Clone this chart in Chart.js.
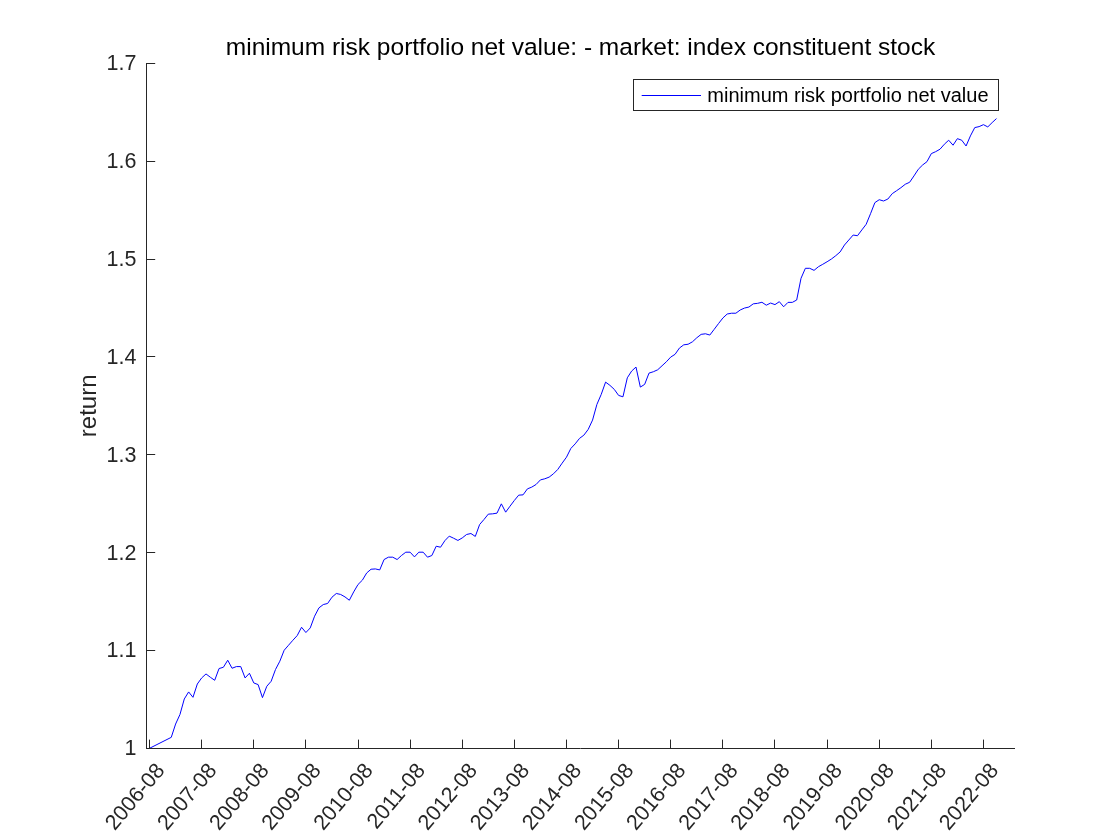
<!DOCTYPE html>
<html>
<head>
<meta charset="utf-8">
<script src="https://cdn.jsdelivr.net/npm/chart.js@4.4.0/dist/chart.umd.min.js"></script>
<style>
  html, body { margin: 0; padding: 0; background: #ffffff; }
  #wrap { width: 1120px; height: 840px; }
</style>
</head>
<body>
<div id="wrap"><canvas id="c" width="1120" height="840"></canvas></div>
<script>
// ---------------- data ----------------
const chartTitle = 'minimum risk portfolio net value: - market: index constituent stock';
const seriesName = 'minimum risk portfolio net value';
const yAxisLabel = 'return';

const dates = [
  '2006-08',
  '2007-01','2007-02','2007-03','2007-04','2007-05','2007-06','2007-07','2007-08','2007-09','2007-10','2007-11','2007-12',
  '2008-01','2008-02','2008-03','2008-04','2008-05','2008-06','2008-07','2008-08','2008-09','2008-10','2008-11','2008-12',
  '2009-01','2009-02','2009-03','2009-04','2009-05','2009-06','2009-07','2009-08','2009-09','2009-10','2009-11','2009-12',
  '2010-01','2010-02','2010-03','2010-04','2010-05','2010-06','2010-07','2010-08','2010-09','2010-10','2010-11','2010-12',
  '2011-01','2011-02','2011-03','2011-04','2011-05','2011-06','2011-07','2011-08','2011-09','2011-10','2011-11','2011-12',
  '2012-01','2012-02','2012-03','2012-04','2012-05','2012-06','2012-07','2012-08','2012-09','2012-10','2012-11','2012-12',
  '2013-01','2013-02','2013-03','2013-04','2013-05','2013-06','2013-07','2013-08','2013-09','2013-10','2013-11','2013-12',
  '2014-01','2014-02','2014-03','2014-04','2014-05','2014-06','2014-07','2014-08','2014-09','2014-10','2014-11','2014-12',
  '2015-01','2015-02','2015-03','2015-04','2015-05','2015-06','2015-07','2015-08','2015-09','2015-10','2015-11','2015-12',
  '2016-01','2016-02','2016-03','2016-04','2016-05','2016-06','2016-07','2016-08','2016-09','2016-10','2016-11','2016-12',
  '2017-01','2017-02','2017-03','2017-04','2017-05','2017-06','2017-07','2017-08','2017-09','2017-10','2017-11','2017-12',
  '2018-01','2018-02','2018-03','2018-04','2018-05','2018-06','2018-07','2018-08','2018-09','2018-10','2018-11','2018-12',
  '2019-01','2019-02','2019-03','2019-04','2019-05','2019-06','2019-07','2019-08','2019-09','2019-10','2019-11','2019-12',
  '2020-01','2020-02','2020-03','2020-04','2020-05','2020-06','2020-07','2020-08','2020-09','2020-10','2020-11','2020-12',
  '2021-01','2021-02','2021-03','2021-04','2021-05','2021-06','2021-07','2021-08','2021-09','2021-10','2021-11','2021-12',
  '2022-01','2022-02','2022-03','2022-04','2022-05','2022-06','2022-07','2022-08','2022-09','2022-10','2022-11'
];

const values = [
  1.0000,
  1.0112, 1.0248, 1.0345, 1.0504, 1.0576, 1.0521, 1.0657, 1.0719, 1.0760, 1.0726, 1.0695, 1.0815,
  1.0828, 1.0900, 1.0818, 1.0835, 1.0835, 1.0719, 1.0767, 1.0668, 1.0651, 1.0518, 1.0634, 1.0685,
  1.0805, 1.0890, 1.1002, 1.1053, 1.1104, 1.1152, 1.1237, 1.1183, 1.1230, 1.1350, 1.1435, 1.1469,
  1.1480, 1.1544, 1.1582, 1.1572, 1.1547, 1.1513, 1.1598, 1.1674, 1.1718, 1.1792, 1.1830, 1.1833,
  1.1823, 1.1929, 1.1953, 1.1953, 1.1929, 1.1970, 1.2004, 1.2004, 1.1956, 1.2004, 1.2004, 1.1953,
  1.1970, 1.2065, 1.2055, 1.2122, 1.2168, 1.2147, 1.2124, 1.2150, 1.2185, 1.2195, 1.2165, 1.2287,
  1.2338, 1.2393, 1.2396, 1.2403, 1.2498, 1.2413, 1.2474, 1.2533, 1.2587, 1.2590, 1.2651, 1.2669,
  1.2696, 1.2743, 1.2754, 1.2771, 1.2805, 1.2850, 1.2914, 1.2975, 1.3064, 1.3111, 1.3167, 1.3200,
  1.3259, 1.3354, 1.3514, 1.3617, 1.3742, 1.3709, 1.3668, 1.3606, 1.3592, 1.3786, 1.3855, 1.3896,
  1.3691, 1.3719, 1.3834, 1.3848, 1.3868, 1.3909, 1.3950, 1.3998, 1.4026, 1.4090, 1.4123, 1.4129,
  1.4154, 1.4195, 1.4230, 1.4236, 1.4223, 1.4281, 1.4340, 1.4397, 1.4438, 1.4446, 1.4446, 1.4479,
  1.4499, 1.4509, 1.4542, 1.4547, 1.4558, 1.4528, 1.4550, 1.4534, 1.4564, 1.4512, 1.4557, 1.4557,
  1.4581, 1.4803, 1.4905, 1.4905, 1.4884, 1.4921, 1.4946, 1.4972, 1.5000, 1.5034, 1.5072, 1.5143,
  1.5194, 1.5245, 1.5238, 1.5297, 1.5355, 1.5463, 1.5576, 1.5606, 1.5593, 1.5613, 1.5668, 1.5698,
  1.5729, 1.5764, 1.5784, 1.5849, 1.5917, 1.5961, 1.5995, 1.6077, 1.6097, 1.6122, 1.6173, 1.6214,
  1.6163, 1.6230, 1.6214, 1.6155, 1.6258, 1.6343, 1.6353, 1.6373, 1.6350, 1.6394, 1.6435
];

const xTickLabels = [
  '2006-08','2007-08','2008-08','2009-08','2010-08','2011-08','2012-08','2013-08','2014-08',
  '2015-08','2016-08','2017-08','2018-08','2019-08','2020-08','2021-08','2022-08'
];
const yTickValues = [1, 1.1, 1.2, 1.3, 1.4, 1.5, 1.6, 1.7];

// ---------------- helpers / styles ----------------
const FONT = '"Liberation Sans", Arial, Helvetica, sans-serif';
const AXIS_COLOR = '#262626';
const LINE_COLOR = '#0000ff';
const TICK_LEN = 8.7;

function monthIndex(s) {
  const [y, m] = s.split('-').map(Number);
  return (y - 2006) * 12 + (m - 8);
}

const points = dates.map((d, i) => ({ x: monthIndex(d), y: values[i] }));

// MATLAB-style decorations: inward ticks, title, boxed legend inside the axes
const matlabDecor = {
  id: 'matlabDecor',
  afterDraw(chart) {
    const { ctx, chartArea: a, scales } = chart;
    const xs = scales.x, ys = scales.y;
    ctx.save();
    ctx.strokeStyle = AXIS_COLOR;
    ctx.lineWidth = 1;
    ctx.beginPath();
    xs.ticks.forEach(t => {
      const px = Math.round(xs.getPixelForValue(t.value) - 0.5) + 0.5;
      ctx.moveTo(px, a.bottom);
      ctx.lineTo(px, a.bottom - TICK_LEN);
    });
    ys.ticks.forEach(t => {
      const py = Math.round(ys.getPixelForValue(t.value) - 0.5) + 0.5;
      ctx.moveTo(a.left, py);
      ctx.lineTo(a.left + TICK_LEN, py);
    });
    ctx.stroke();

    // title
    ctx.fillStyle = '#000000';
    ctx.font = '24.5px ' + FONT;
    ctx.textAlign = 'center';
    ctx.textBaseline = 'alphabetic';
    ctx.fillText(chartTitle, (a.left + a.right) / 2, a.top - 8.3);

    // legend
    const ds = chart.data.datasets[0];
    ctx.font = '20px ' + FONT;
    const tw = ctx.measureText(ds.label).width;
    const padL = 8.2, sample = 59.3, gap = 6.3, padR = 9.7;
    const bw = Math.round(padL + sample + gap + tw + padR);
    const bh = 31;
    const bx = Math.floor(a.right - 381) + 0.5;
    const by = Math.floor(a.top + 16) + 0.5;
    ctx.fillStyle = '#ffffff';
    ctx.fillRect(bx, by, bw, bh);
    ctx.strokeStyle = AXIS_COLOR;
    ctx.strokeRect(bx, by, bw, bh);
    ctx.strokeStyle = ds.borderColor;
    ctx.beginPath();
    ctx.moveTo(bx + padL, by + 16);
    ctx.lineTo(bx + padL + sample, by + 16);
    ctx.stroke();
    ctx.fillStyle = '#000000';
    ctx.textAlign = 'left';
    ctx.fillText(ds.label, bx + padL + sample + gap, by + 22);
    ctx.restore();
  }
};

new Chart(document.getElementById('c').getContext('2d'), {
  type: 'line',
  data: {
    datasets: [{
      label: seriesName,
      data: points,
      borderColor: LINE_COLOR,
      backgroundColor: LINE_COLOR,
      borderWidth: 1,
      pointRadius: 0,
      pointHoverRadius: 0,
      tension: 0,
      fill: false
    }]
  },
  options: {
    responsive: false,
    animation: false,
    events: [],
    layout: { padding: { top: 63.3, right: 105.5, bottom: 0, left: 0 } },
    plugins: {
      legend: { display: false },
      title: { display: false },
      tooltip: { enabled: false }
    },
    scales: {
      x: {
        type: 'linear',
        min: -0.7,
        max: 199.15,
        grid: { display: false, drawTicks: false },
        border: { display: true, color: AXIS_COLOR, width: 1 },
        afterBuildTicks: s => { s.ticks = xTickLabels.map(l => ({ value: monthIndex(l) })); },
        afterFit: s => { s.height = 91.7; },
        ticks: {
          autoSkip: false,
          minRotation: 50,
          maxRotation: 50,
          padding: 10.5,
          labelOffset: 11.5,
          color: AXIS_COLOR,
          font: { family: FONT, size: 21.5 },
          callback: (v, i) => xTickLabels[i]
        }
      },
      y: {
        type: 'linear',
        min: 1,
        max: 1.7,
        grid: { display: false, drawTicks: false },
        border: { display: true, color: AXIS_COLOR, width: 1 },
        afterBuildTicks: s => { s.ticks = yTickValues.map(v => ({ value: v })); },
        afterFit: s => { s.width = 146.5; },
        ticks: {
          padding: 10,
          labelOffset: 1,
          color: AXIS_COLOR,
          font: { family: FONT, size: 21.5 },
          callback: v => String(Number(v.toFixed(1)))
        },
        title: {
          display: true,
          text: yAxisLabel,
          color: AXIS_COLOR,
          font: { family: FONT, size: 24 },
          padding: { top: 74.8, bottom: 0 }
        }
      }
    }
  },
  plugins: [matlabDecor]
});
</script>
</body>
</html>
